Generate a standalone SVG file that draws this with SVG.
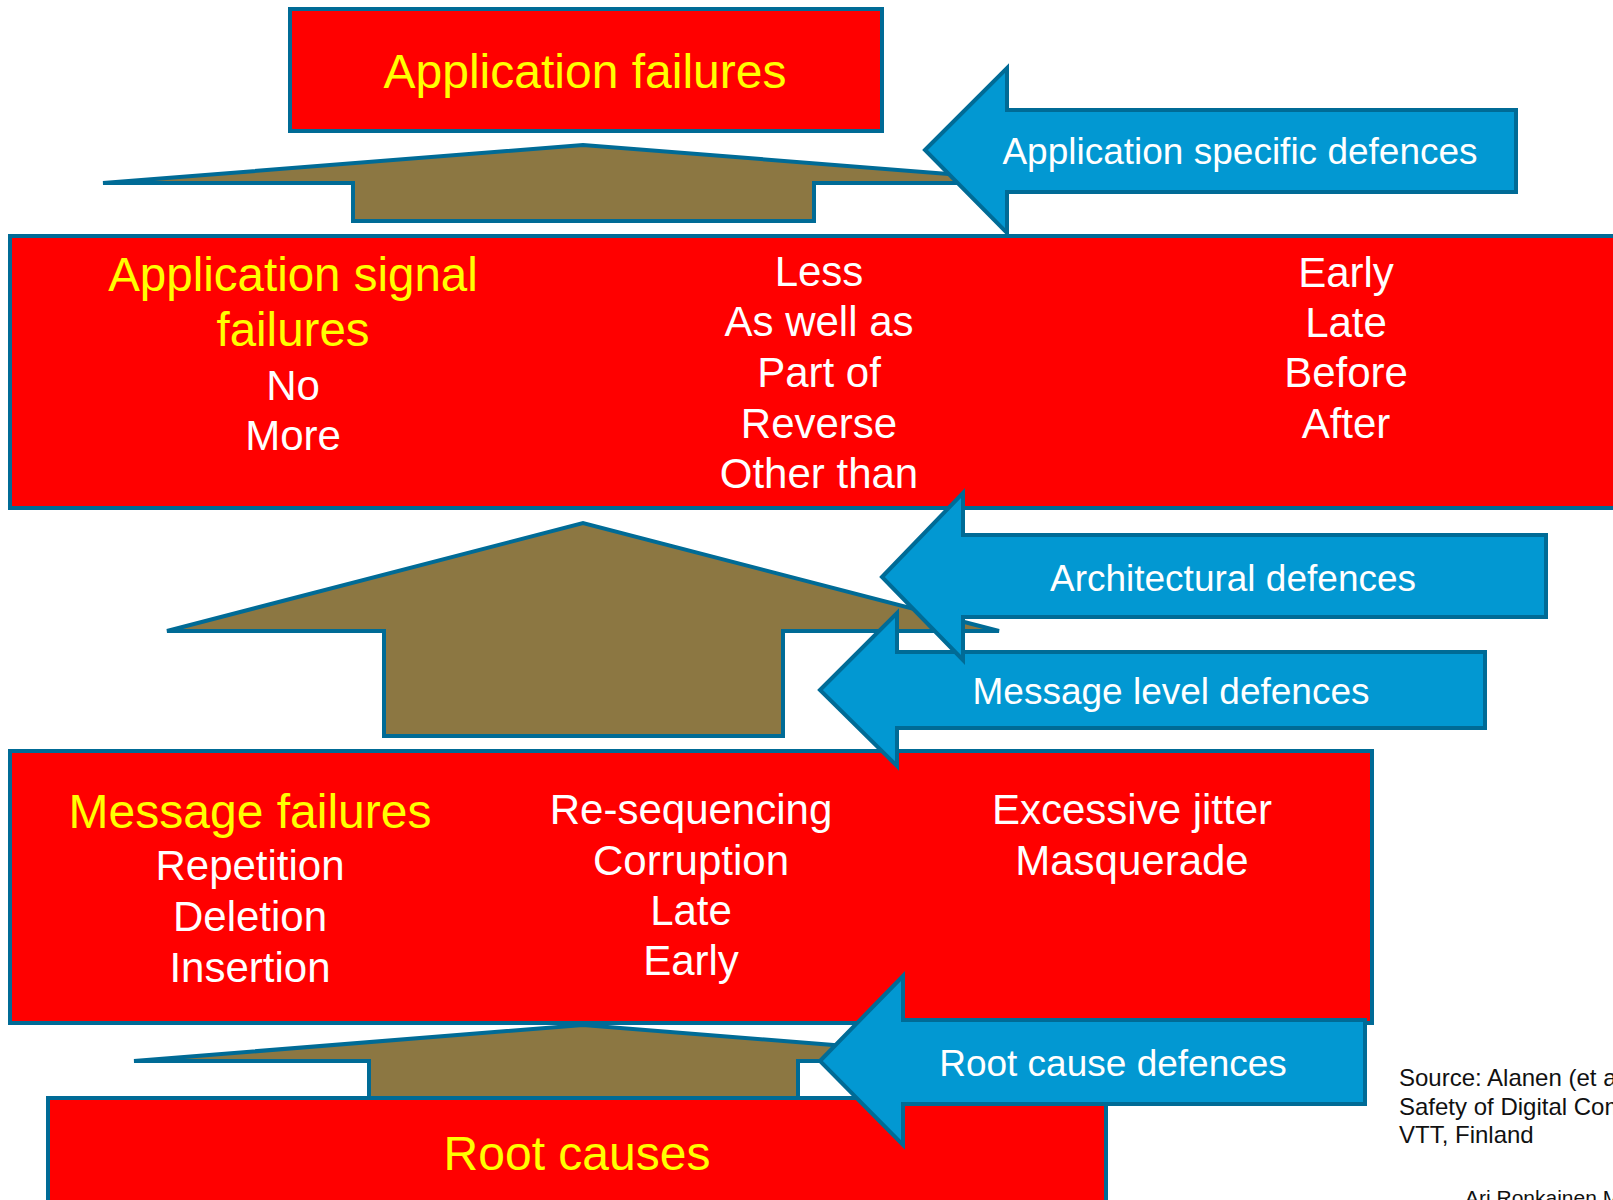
<svg xmlns="http://www.w3.org/2000/svg" width="1613" height="1200" viewBox="0 0 1613 1200">
<style>
.box{fill:#FF0000;stroke:#006B96;stroke-width:4}
.def{fill:#0298D2;stroke:#006B96;stroke-width:4}
.up{fill:#8C7742;stroke:#006B96;stroke-width:4}
text{font-family:"Liberation Sans",Arial,sans-serif;text-anchor:middle}
.y{fill:#FFFF00;font-size:48px}
.w{fill:#FFFFFF;font-size:42px}
.b{fill:#FFFFFF;font-size:37px}
.s{fill:#111111;font-size:24px;text-anchor:start}
</style>
<rect width="1613" height="1200" fill="#FFFFFF"/>
<g id="connectors">
<polygon class="up" points="103,183 583,145 1063,183 814,183 814,221 353,221 353,183"/>
<polygon class="up" points="167,631 583,523 999,631 783,631 783,736 384,736 384,631"/>
<polygon class="up" points="134,1061 583,1025 1032,1061 798,1061 798,1140 369,1140 369,1061"/>
</g>
<g id="app-failures">
<rect class="box" x="290" y="9" width="592" height="122"/>
<text class="y" x="585" y="88">Application failures</text>
</g>
<g id="app-signal-failures">
<rect class="box" x="10" y="236" width="1620" height="272"/>
<text class="y" x="293" y="291" style="font-size:47.5px">Application signal</text>
<text class="y" x="293" y="346" style="font-size:47.5px">failures</text>
<text class="w" x="293" y="400">No</text>
<text class="w" x="293" y="450">More</text>
<text class="w" x="819" y="286">Less</text>
<text class="w" x="819" y="336">As well as</text>
<text class="w" x="819" y="387">Part of</text>
<text class="w" x="819" y="438">Reverse</text>
<text class="w" x="819" y="488">Other than</text>
<text class="w" x="1346" y="287">Early</text>
<text class="w" x="1346" y="337">Late</text>
<text class="w" x="1346" y="387">Before</text>
<text class="w" x="1346" y="438">After</text>
</g>
<g id="app-specific-defences">
<polygon class="def" points="925,150 1007,68 1007,110 1516,110 1516,192 1007,192 1007,233"/>
<text class="b" x="1240" y="164">Application specific defences</text>
</g>
<g id="message-failures">
<rect class="box" x="10" y="751" width="1362" height="272"/>
<text class="y" x="250" y="828">Message failures</text>
<text class="w" x="250" y="880">Repetition</text>
<text class="w" x="250" y="931">Deletion</text>
<text class="w" x="250" y="982">Insertion</text>
<text class="w" x="691" y="824">Re-sequencing</text>
<text class="w" x="691" y="875">Corruption</text>
<text class="w" x="691" y="925">Late</text>
<text class="w" x="691" y="975">Early</text>
<text class="w" x="1132" y="824">Excessive jitter</text>
<text class="w" x="1132" y="875">Masquerade</text>
</g>
<g id="message-level-defences">
<polygon class="def" points="820,690 897,613 897,652 1485,652 1485,728 897,728 897,766"/>
<text class="b" x="1171" y="704">Message level defences</text>
</g>
<g id="architectural-defences">
<polygon class="def" points="882,577 963,493 963,535 1546,535 1546,617 963,617 963,660"/>
<text class="b" x="1233" y="591">Architectural defences</text>
</g>
<g id="root-causes">
<rect class="box" x="48" y="1098" width="1058" height="120"/>
<text class="y" x="577" y="1170">Root causes</text>
</g>
<g id="root-cause-defences">
<polygon class="def" points="820,1061 903,976 903,1020 1365,1020 1365,1104 903,1104 903,1145"/>
<text class="b" x="1113" y="1076">Root cause defences</text>
</g>
<g id="source">
<text class="s" x="1399" y="1086">Source: Alanen (et a</text>
<text class="s" x="1399" y="1115">Safety of Digital Com</text>
<text class="s" x="1399" y="1143">VTT, Finland</text>
<text class="s" x="1465" y="1205" style="font-size:21px">Ari Ronkainen M</text>
</g>
</svg>
